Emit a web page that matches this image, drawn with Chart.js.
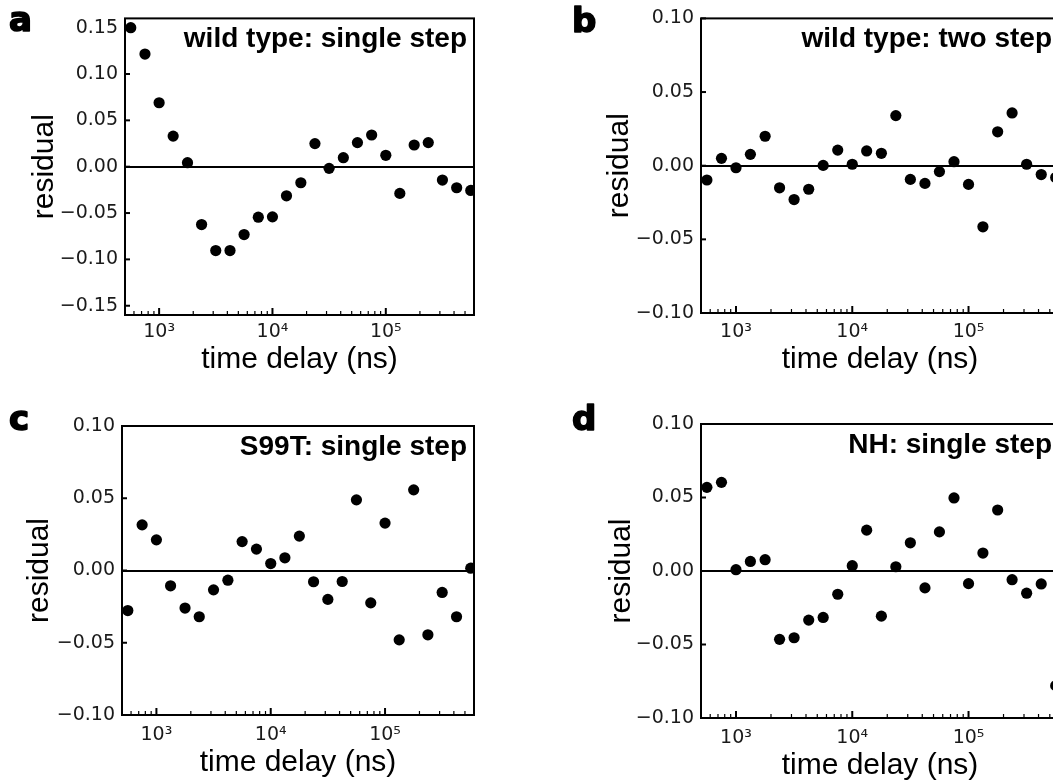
<!DOCTYPE html>
<html><head><meta charset="utf-8">
<script src="https://cdn.jsdelivr.net/npm/chart.js@4.4.1/dist/chart.umd.min.js"></script>
<style>
html,body{margin:0;padding:0;background:#fff;overflow:hidden;width:1053px;height:784px;position:relative;}
canvas{position:absolute;}
</style></head><body>
<canvas id="pa" width="520" height="392" style="left:0px;top:0px;width:520px;height:392px"></canvas>
<canvas id="pb" width="560" height="392" style="left:520px;top:0px;width:560px;height:392px"></canvas>
<canvas id="pc" width="520" height="384" style="left:0px;top:400px;width:520px;height:384px"></canvas>
<canvas id="pd" width="560" height="384" style="left:520px;top:400px;width:560px;height:384px"></canvas>
<script>
// ---- data ----
const timeDelay = [562, 750, 1000, 1330, 1780, 2370, 3160, 4220, 5620, 7500, 10000, 13300, 17800, 23700, 31600, 42200, 56200, 75000, 100000, 133000, 178000, 237000, 316000, 422000, 562000];
const residualWildSingle = [0.150, 0.1215, 0.069, 0.033, 0.0043, -0.0624, -0.0905, -0.0905, -0.0732, -0.0545, -0.0541, -0.0314, -0.0173, 0.0249, -0.0018, 0.0097, 0.026, 0.0342, 0.0123, -0.0288, 0.0234, 0.026, -0.0144, -0.0227, -0.0256];
const residualWildTwo = [-0.0097, 0.005, -0.0014, 0.0077, 0.020, -0.015, -0.023, -0.016, 0.0002, 0.0106, 0.001, 0.010, 0.0084, 0.034, -0.0093, -0.012, -0.004, 0.0027, -0.0127, -0.0415, 0.023, 0.0358, 0.001, -0.006, -0.008];
const residualS99T = [-0.0277, 0.0316, 0.0212, -0.0106, -0.026, -0.032, -0.0134, -0.0067, 0.020, 0.0148, 0.0048, 0.0088, 0.0238, -0.0078, -0.020, -0.0076, 0.0489, -0.0224, 0.0328, -0.048, 0.0558, -0.0445, -0.0152, -0.032, 0.0016];
const residualNH = [0.0569, 0.0603, 0.0009, 0.0065, 0.0077, -0.0465, -0.0454, -0.0334, -0.0316, -0.0158, 0.0036, 0.0278, -0.0307, 0.0029, 0.0192, -0.0115, 0.0266, 0.0497, -0.0086, 0.0122, 0.0415, -0.0059, -0.0151, -0.0088, -0.078];

const xMajorTicks = [1000, 10000, 100000];
const xTickLabels = ['10³', '10⁴', '10⁵'];
const xMinorTicks = [600, 700, 800, 900, 2000, 3000, 4000, 5000, 6000, 7000, 8000, 9000, 20000, 30000, 40000, 50000, 60000, 70000, 80000, 90000, 200000, 300000, 400000, 500000];
const yTicksWide = [-0.15, -0.10, -0.05, 0, 0.05, 0.10, 0.15];
const yTickLabelsWide = ['−0.15', '−0.10', '−0.05', '0.00', '0.05', '0.10', '0.15'];
const yTicksNarrow = [-0.10, -0.05, 0, 0.05, 0.10];
const yTickLabelsNarrow = ['−0.10', '−0.05', '0.00', '0.05', '0.10'];
const panelLetters = ['a', 'b', 'c', 'd'];
const panelTitles = ['wild type: single step', 'wild type: two step', 'S99T: single step', 'NH: single step'];
const xAxisTitle = 'time delay (ns)';
const yAxisTitle = 'residual';

// ---- layout ----
const panels = [
  {id:'pa', W:520, H:392, plot:{l:125, t:18, r:474, b:315}, ymin:-0.16, ymax:0.16, yt:yTicksWide, yl:yTickLabelsWide, data:residualWildSingle, letter:panelLetters[0], title:panelTitles[0], lx:9, ly:31, xpad:5.5, xtb:14.4, ytp:26.6},
  {id:'pb', W:560, H:392, plot:{l:181, t:18, r:539, b:313}, ymin:-0.10, ymax:0.10, yt:yTicksNarrow, yl:yTickLabelsNarrow, data:residualWildTwo, letter:panelLetters[1], title:panelTitles[1], lx:52, ly:31.7, xpad:8, xtb:14.4, ytp:82.1},
  {id:'pc', W:520, H:384, plot:{l:122, t:26, r:474, b:315}, ymin:-0.10, ymax:0.10, yt:yTicksNarrow, yl:yTickLabelsNarrow, data:residualS99T, letter:panelLetters[2], title:panelTitles[2], lx:9, ly:30, xpad:8.7, xtb:3.4, ytp:21.6},
  {id:'pd', W:560, H:384, plot:{l:181, t:24, r:539, b:318}, ymin:-0.10, ymax:0.10, yt:yTicksNarrow, yl:yTickLabelsNarrow, data:residualNH, letter:panelLetters[3], title:panelTitles[3], lx:52, ly:30, xpad:9, xtb:0.4, ytp:83.6}
];

const decor = {
  id: 'decor',
  afterDraw(chart, args, o) {
    const {ctx, chartArea: a, scales: {x, y}} = chart;
    ctx.save();
    ctx.strokeStyle = '#000';
    const seg = (x1, y1, x2, y2, w) => { ctx.lineWidth = w; ctx.beginPath(); ctx.moveTo(x1, y1); ctx.lineTo(x2, y2); ctx.stroke(); };
    xMinorTicks.forEach(v => { const px = x.getPixelForValue(v); seg(px, a.bottom, px, a.bottom - 4, 1.2); });
    xMajorTicks.forEach(v => { const px = x.getPixelForValue(v); seg(px, a.bottom, px, a.bottom - 7, 2); });
    o.yTicks.forEach(v => { const py = y.getPixelForValue(v); seg(a.left, py, a.left + 5, py, 2); });
    ctx.lineWidth = 2;
    ctx.strokeRect(a.left, a.top, a.right - a.left, a.bottom - a.top);
    ctx.fillStyle = '#000';
    ctx.textBaseline = 'alphabetic';
    ctx.font = 'bold 28px "Liberation Sans", Arial, sans-serif';
    ctx.textAlign = 'right';
    ctx.fillText(o.title, a.right - 7, a.top + 28.5);
    ctx.font = 'bold 34px "DejaVu Sans", sans-serif';
    ctx.textAlign = 'left';
    ctx.lineWidth = 1.6;
    ctx.lineJoin = 'round';
    ctx.fillText(o.letter, o.lx, o.ly);
    ctx.strokeText(o.letter, o.lx, o.ly);
    ctx.restore();
  }
};

function build() {
  panels.forEach(p => {
    const cv = document.getElementById(p.id);
    new Chart(cv, {
      type: 'scatter',
      data: {datasets: [{
        data: timeDelay.map((t, i) => ({x: t, y: p.data[i]})),
        backgroundColor: '#000', borderWidth: 0, pointRadius: 5.6, pointHoverRadius: 5.6, clip: 0
      }]},
      options: {
        responsive: false, animation: false, devicePixelRatio: 1, events: [],
        layout: {padding: {left: 0, top: p.plot.t, right: p.W - p.plot.r, bottom: 0}},
        plugins: {legend: {display: false}, tooltip: {enabled: false},
          decor: {yTicks: p.yt, title: p.title, letter: p.letter, lx: p.lx, ly: p.ly}},
        scales: {
          x: {
            type: 'logarithmic', min: 500, max: 600000,
            afterBuildTicks: s => { s.ticks = xMinorTicks.concat(xMajorTicks).sort((m, n) => m - n).map(v => ({value: v})); },
            afterFit: s => { s.height = p.H - p.plot.b; },
            grid: {display: false, drawTicks: false},
            border: {display: false},
            ticks: {autoSkip: false, maxRotation: 0, minRotation: 0, padding: p.xpad, color: '#1a1a1a',
              font: {family: '"DejaVu Sans", sans-serif', size: 19},
              callback: v => { const i = xMajorTicks.indexOf(v); return i >= 0 ? xTickLabels[i] : ''; }},
            title: {display: true, text: xAxisTitle, color: '#000',
              font: {family: '"Liberation Sans", Arial, sans-serif', size: 30},
              padding: {top: 0, bottom: p.xtb}}
          },
          y: {
            type: 'linear', min: p.ymin, max: p.ymax,
            afterBuildTicks: s => { s.ticks = p.yt.map(v => ({value: v})); },
            afterFit: s => { s.width = p.plot.l; },
            grid: {drawTicks: false, lineWidth: 2,
              color: c => (c.tick && c.tick.value === 0) ? '#000' : 'rgba(0,0,0,0)'},
            border: {display: false},
            ticks: {padding: 7, color: '#1a1a1a',
              font: {family: '"DejaVu Sans", sans-serif', size: 19},
              callback: v => { const i = p.yt.indexOf(v); return i >= 0 ? p.yl[i] : ''; }},
            title: {display: true, text: yAxisTitle, color: '#000',
              font: {family: '"Liberation Sans", Arial, sans-serif', size: 30},
              padding: {top: p.ytp, bottom: 0}}
          }
        }
      },
      plugins: [decor]
    });
  });
}
Promise.all([
  document.fonts.load('bold 28px "Liberation Sans"'),
  document.fonts.load('30px "Liberation Sans"'),
  document.fonts.load('19px "DejaVu Sans"'),
  document.fonts.load('bold 34px "DejaVu Sans"')
]).then(build, build);
</script>
</body></html>
